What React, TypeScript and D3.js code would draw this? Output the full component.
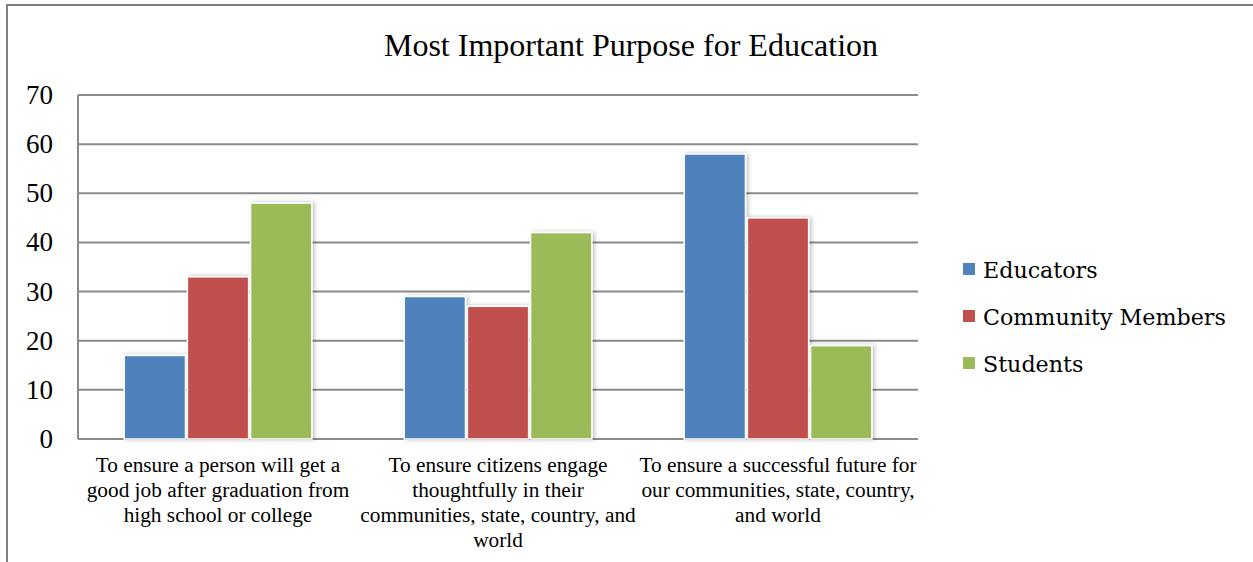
import React from "react";
import * as d3 from "d3";

const categories: string[][] = [
  ["To ensure a person will get a", "good job after graduation from", "high school or college"],
  ["To ensure citizens engage", "thoughtfully in their", "communities, state, country, and", "world"],
  ["To ensure a successful future for", "our communities, state, country,", "and world"],
];
const seriesNames = ["Educators", "Community Members", "Students"];
const educators = [17, 29, 58];
const community = [33, 27, 45];
const students = [48, 42, 19];
const yTicks = [0, 10, 20, 30, 40, 50, 60, 70];
const colors = ["#4F81BD", "#C0504D", "#9BBB59"];

export default function App() {
  const W = 1253, H = 562;
  const left = 78, right = 918, top = 95, bottom = 439;
  const series = [educators, community, students];
  const x0 = d3.scaleBand<number>().domain([0, 1, 2]).range([left, right]).paddingInner(0.33).paddingOuter(0.165);
  const x1 = d3.scaleBand<number>().domain([0, 1, 2]).range([0, x0.bandwidth()]).paddingInner(0.03);
  const y = d3.scaleLinear().domain([0, 70]).range([bottom, top]);
  const serif = "'Liberation Serif', 'Times New Roman', serif";
  const legendFont = "'DejaVu Serif', Cambria, serif";
  return (
    <div style={{ position: "absolute", left: 0, top: 0 }}>
      <svg width={W} height={H} style={{ display: "block", background: "#fff" }}>
        <defs>
          <filter id="sh" x="-20%" y="-20%" width="150%" height="140%">
            <feDropShadow dx="2" dy="0" stdDeviation="2" floodColor="#000" floodOpacity="0.25" />
          </filter>
        </defs>
        <line x1={7} y1={4} x2={7} y2={H} stroke="#808080" strokeWidth={2} />
        <line x1={6} y1={5} x2={W} y2={5} stroke="#808080" strokeWidth={2} />
        <text x={631} y={56} textAnchor="middle" fontFamily={serif} fontSize={32} fill="#000">
          Most Important Purpose for Education
        </text>
        {yTicks.map((t) => (
          <g key={t}>
            <line x1={left} x2={right} y1={y(t)} y2={y(t)} stroke="#8a8a8a" strokeWidth={2} />
            <text x={53} y={y(t) + 9} textAnchor="end" fontFamily={serif} fontSize={27} fill="#000">{t}</text>
          </g>
        ))}
        <line x1={left} x2={left} y1={top} y2={bottom} stroke="#8a8a8a" strokeWidth={2} />
        {categories.map((c, i) =>
          series.map((s, j) => {
            const bx = (x0(i) as number) + (x1(j) as number);
            return (
              <rect key={`${i}-${j}`} x={bx} y={y(s[i])} width={x1.bandwidth()} height={bottom - y(s[i])}
                fill={colors[j]} stroke="#fff" strokeWidth={1.5} filter="url(#sh)" />
            );
          })
        )}
        {categories.map((lines, i) => (
          <text key={i} textAnchor="middle" fontFamily={serif} fontSize={21.3} fill="#000">
            {lines.map((l, k) => (
              <tspan key={k} x={(x0(i) as number) + x0.bandwidth() / 2} y={472 + k * 25}>{l}</tspan>
            ))}
          </text>
        ))}
        {seriesNames.map((n, j) => (
          <g key={n}>
            <rect x={963} y={263 + j * 47} width={12} height={12} fill={colors[j]} />
            <text x={983} y={278 + j * 47} fontFamily={legendFont} fontSize={22.2} fill="#000">{n}</text>
          </g>
        ))}
      </svg>
    </div>
  );
}
